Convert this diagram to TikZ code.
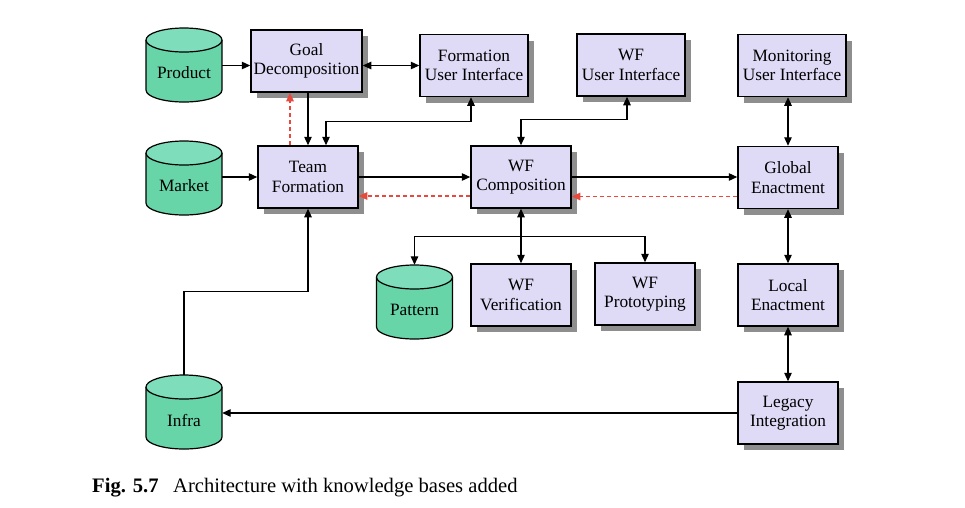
\documentclass[tikz,border=0pt]{standalone}
\usepackage{fontspec}
\setmainfont{Liberation Serif}
\usetikzlibrary{arrows.meta,shadows,calc}
\definecolor{boxfill}{HTML}{DFDAF6}
\definecolor{kbbody}{HTML}{68D5A9}
\definecolor{kbtop}{HTML}{7EDDBB}
\definecolor{shadowgray}{HTML}{8E8E8E}
\definecolor{fbred}{HTML}{E8493C}
\tikzset{
  box/.style={draw, line width=1.5pt, fill=boxfill, minimum height=62pt, minimum width=100pt,
    align=center, inner sep=2pt, execute at begin node={\rule{0pt}{15.5pt}},
    drop shadow={shadow xshift=6pt, shadow yshift=-6pt, fill=shadowgray, opacity=1}},
  kbline/.style={line width=1.2pt},
  kbnode/.style={minimum width=76pt, minimum height=90pt, inner sep=0pt},
  conn/.style={line width=1.2pt, -{Triangle[length=8.5pt,width=7.5pt]}},
  bi/.style={line width=1.2pt, {Triangle[length=8.5pt,width=7.5pt]}-{Triangle[length=8.5pt,width=7.5pt]}},
  fb/.style={draw=fbred, line width=1.1pt, dash pattern=on 4pt off 3pt, -{Triangle[length=8.5pt,width=7.5pt,fill=fbred]}},
}
\newcommand\kbase[4]{%
\begin{scope}[shift={(#2,#3)}]
 \fill[kbbody] (-38,12) rectangle (38,62);
 \fill[kbbody] (0,62) ellipse[x radius=38pt,y radius=12pt];
 \draw[kbline] (-38,12) -- (-38,62) arc[start angle=180,end angle=360,x radius=38pt,y radius=12pt] -- (38,12);
 \filldraw[kbline,fill=kbtop] (0,12) ellipse[x radius=38pt,y radius=12pt];
 \node[kbnode] (#1) at (0,45) {#4};
\end{scope}}
\begin{document}
\begin{tikzpicture}[x=1pt, y=-1pt, font=\fontsize{17.3}{19.5}\selectfont]
\useasboundingbox (0,0) rectangle (965,507);

\node[box, minimum width=111pt] (goal) at (306.5,61) {Goal\\Decomposition};
\node[box, minimum width=108pt] (formui) at (474,65.5) {Formation\\User Interface};
\node[box, minimum width=108pt] (wfui) at (631,65) {WF\\User Interface};
\node[box, minimum width=108pt] (monui) at (792,65.5) {Monitoring\\User Interface};
\node[box] (team) at (308,177) {Team\\Formation};
\node[box] (wfcomp) at (521,177) {WF\\Composition};
\node[box] (global) at (788,177.5) {Global\\Enactment};
\node[box] (wfver) at (521,295) {WF\\Verification};
\node[box] (wfproto) at (645,294) {WF\\Prototyping};
\node[box] (local) at (788,295) {Local\\Enactment};
\node[box] (legacy) at (788,413) {Legacy\\Integration};

\kbase{product}{184}{28}{Product}
\kbase{market}{184}{141}{Market}
\kbase{pattern}{414.5}{265}{Pattern}
\kbase{infra}{184}{375}{Infra}

\draw[conn] (formui.west -| product.east) -- (formui.west -| goal.west);
\draw[bi] (formui.west -| goal.east) -- (formui.west);
\draw[conn] (goal.south -| team.north) -- (team.north);
\draw[fb] ([xshift=-18pt]team.north) -- ([xshift=-18pt]team.north |- goal.south);
\draw[bi] ([xshift=-3pt]formui.south) -- ++(0,24) -| ([xshift=18pt]team.north);
\draw[bi] (wfcomp.north) -- ++(0,-26) -| ([xshift=-4pt]wfui.south);
\draw[conn] (team.west -| market.east) -- (team.west);
\draw[conn] (team.east) -- (wfcomp.west);
\draw[conn] (wfcomp.east) -- (wfcomp.east -| global.west);
\draw[fb] ([yshift=-19pt]global.west) -- ([yshift=-19pt]global.west -| wfcomp.east);
\draw[fb] ([yshift=-19pt]wfcomp.west) -- ([yshift=-19pt]wfcomp.west -| team.east);
\draw[bi] (global.north) -- (global.north |- monui.south);
\draw[bi] (global.south) -- (local.north);
\draw[bi] (local.south) -- (legacy.north);
\draw[conn] (legacy.west) -- (legacy.west -| infra.east);
\draw[conn] (infra.north) -- ++(0,-83) -| (team.south);
\draw[bi] (wfcomp.south) -- (wfver.north);
\coordinate (split) at ($(wfcomp.south)+(0,28)$);
\draw[conn] (split) -| (pattern.north);
\draw[conn] (split) -| (wfproto.north);

\node[anchor=base west, inner sep=0pt, font=\fontsize{20.6}{24}\selectfont\bfseries] (figlabel) at (92,492) {Fig. 5.7};
\node[anchor=base west, inner sep=0pt, font=\fontsize{20.6}{24}\selectfont] (caption) at (173,492) {Architecture with knowledge bases added};
\end{tikzpicture}
\end{document}
